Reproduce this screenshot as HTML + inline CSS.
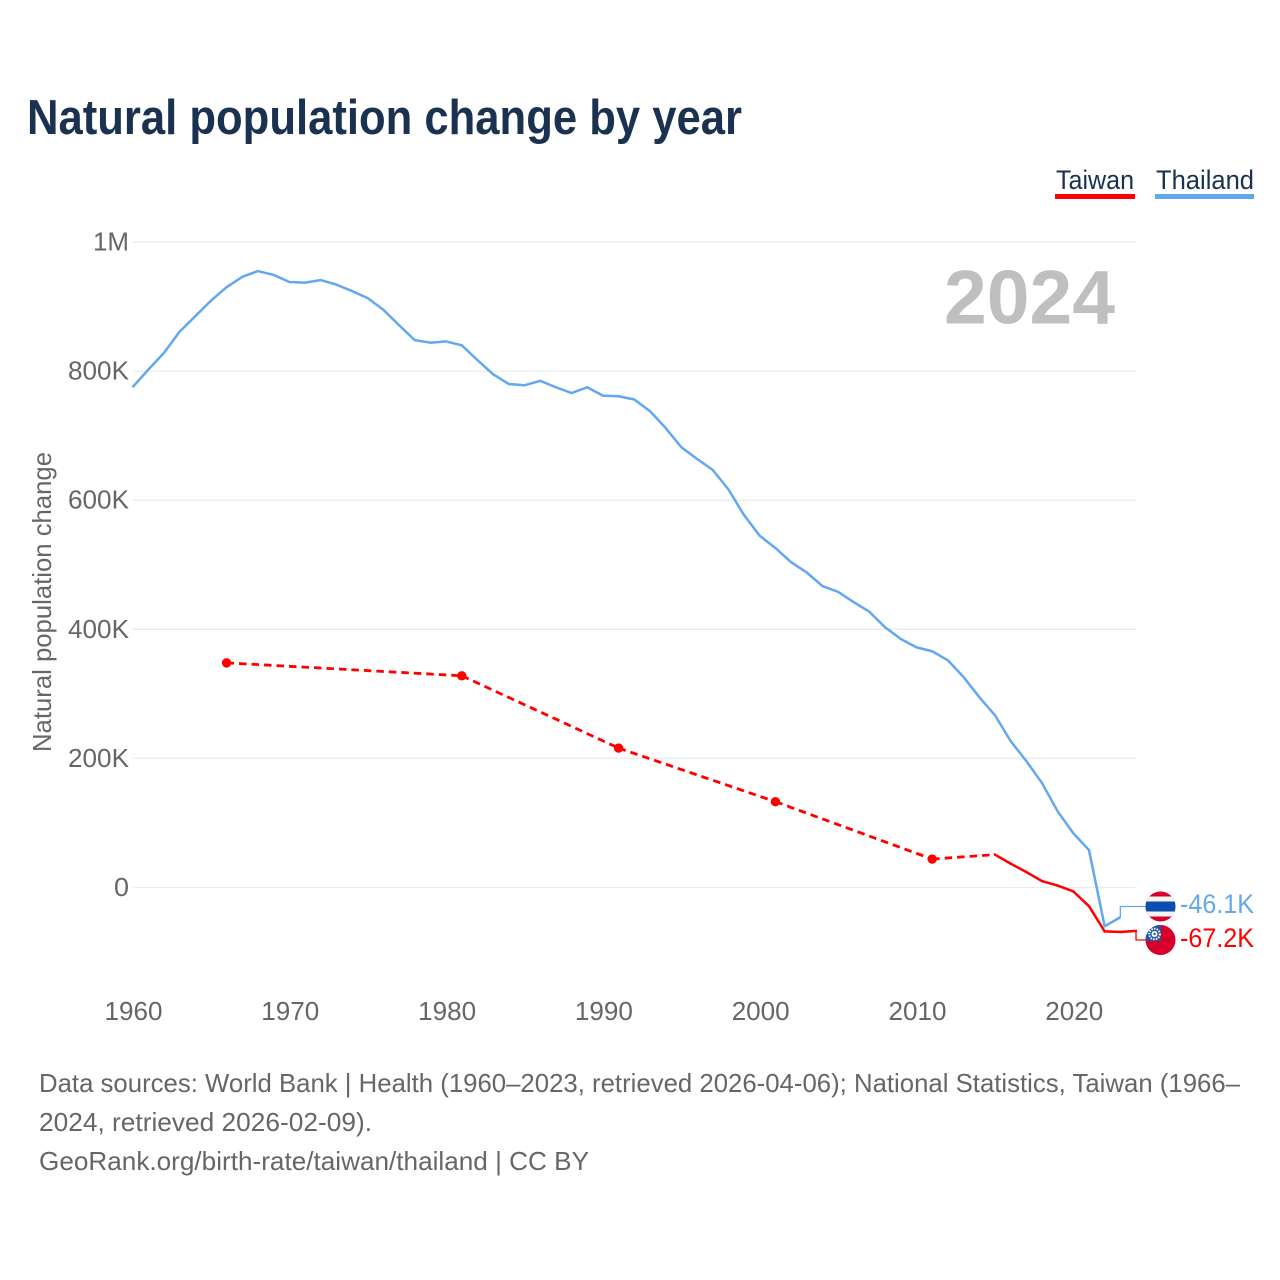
<!DOCTYPE html>
<html lang="en">
<head>
<meta charset="utf-8">
<title>Natural population change by year</title>
<style>
html,body{margin:0;padding:0;background:#fff;}
svg{display:block;}
text{font-family:"Liberation Sans",sans-serif;}
</style>
</head>
<body>
<svg id="chart" xmlns="http://www.w3.org/2000/svg" width="1280" height="1280" viewBox="0 0 1280 1280">
  <defs>
    <clipPath id="thai-clip"><circle cx="1160.5" cy="906.5" r="15"/></clipPath>
    <clipPath id="taiwan-clip"><circle cx="1160.5" cy="940" r="15"/></clipPath>
  </defs>
  <rect x="0" y="0" width="1280" height="1280" fill="#fff"/>
  <text x="27" y="134" font-size="49" font-weight="700" fill="#1a3150" textLength="715" lengthAdjust="spacingAndGlyphs">Natural population change by year</text>

  <g>
    <g>
      <text x="1056" y="189" font-size="27" fill="#1a3150" textLength="78" lengthAdjust="spacingAndGlyphs">Taiwan</text>
      <rect x="1055" y="194" width="80" height="5" fill="#ff0000"/>
    </g>
    <g>
      <text x="1156" y="189" font-size="27" fill="#1a3150" textLength="98" lengthAdjust="spacingAndGlyphs">Thailand</text>
      <rect x="1155" y="194" width="99" height="5" fill="#63a7ee"/>
    </g>
  </g>

  <g id="grid"></g>
  <g id="y-axis"></g>
  <g id="x-axis"></g>

  <text transform="translate(51,602) rotate(-90)" text-anchor="middle" font-size="26" fill="#666" textLength="300" lengthAdjust="spacingAndGlyphs">Natural population change</text>

  <text x="1115" y="323.5" text-anchor="end" font-size="76" font-weight="700" fill="#bfbfbf" textLength="171" lengthAdjust="spacingAndGlyphs">2024</text>

  <g id="series"></g>

  <g clip-path="url(#thai-clip)">
    <rect x="1145" y="891" width="31" height="31" fill="#d8002a"/>
    <rect x="1145" y="896.5" width="31" height="20" fill="#f4f4f4"/>
    <rect x="1145" y="901.5" width="31" height="10" fill="#0a4eb0"/>
  </g>
  <g clip-path="url(#taiwan-clip)">
    <rect x="1145" y="924" width="31" height="32" fill="#d8002a"/>
    <rect x="1145" y="924" width="16" height="17" fill="#1f55a8"/>
    <circle cx="1154.5" cy="934" r="5.3" fill="none" stroke="#fff" stroke-width="2" stroke-dasharray="1.5 1.2"/>
    <circle cx="1154.5" cy="934" r="3" fill="#fff"/>
    <circle cx="1154.5" cy="934" r="1.2" fill="#1f55a8"/>
  </g>
  <text x="1254" y="913" text-anchor="end" font-size="27" fill="#63a7ee" textLength="74" lengthAdjust="spacingAndGlyphs">-46.1K</text>
  <text x="1254" y="947" text-anchor="end" font-size="27" fill="#ff0000" textLength="74" lengthAdjust="spacingAndGlyphs">-67.2K</text>

  <g font-size="26" fill="#666">
    <text x="39" y="1092" textLength="1201" lengthAdjust="spacingAndGlyphs">Data sources: World Bank | Health (1960–2023, retrieved 2026-04-06); National Statistics, Taiwan (1966–</text>
    <text x="39" y="1131" textLength="333" lengthAdjust="spacingAndGlyphs">2024, retrieved 2026-02-09).</text>
    <text x="39" y="1170" textLength="550" lengthAdjust="spacingAndGlyphs">GeoRank.org/birth-rate/taiwan/thailand | CC BY</text>
  </g>
</svg>
<script>
const thailandYears = [1960,1961,1962,1963,1964,1965,1966,1967,1968,1969,1970,1971,1972,1973,1974,1975,1976,1977,1978,1979,1980,1981,1982,1983,1984,1985,1986,1987,1988,1989,1990,1991,1992,1993,1994,1995,1996,1997,1998,1999,2000,2001,2002,2003,2004,2005,2006,2007,2008,2009,2010,2011,2012,2013,2014,2015,2016,2017,2018,2019,2020,2021,2022,2023];
const thailandValues = [775,802,828,861,885,909,930,946,955,949,938,937,941,934,924,913,895,871,848,844,846,840,817,795,780,778,785,775,766,775,762,761,756,738,712,682,664,647,617,577,545,526,504,488,467,458,442,427,403,385,372,366,352,326,295,267,227,196,162,118,84,58,-60,-46.1];
const taiwanYears = [1966,1981,1991,2001,2011,2015,2016,2017,2018,2019,2020,2021,2022,2023,2024];
const taiwanValues = [348,328,216,133,44,51,37,24,10,3,-6,-29,-68,-69,-67.2];
const yTickValues = [0,200,400,600,800,1000];
const yTickLabels = ["0","200K","400K","600K","800K","1M"];
const xTickYears = [1960,1970,1980,1990,2000,2010,2020];

const NS = "http://www.w3.org/2000/svg";
const xScale = year => 132.5 + (year - 1960) * 15.68;
const yScale = value => 887.5 - value * 0.6455;

function svgEl(tag, attrs, parent) {
  const el = document.createElementNS(NS, tag);
  for (const key in attrs) el.setAttribute(key, attrs[key]);
  parent.appendChild(el);
  return el;
}

const grid = document.getElementById("grid");
const yAxis = document.getElementById("y-axis");
const xAxis = document.getElementById("x-axis");
const series = document.getElementById("series");

yTickValues.forEach((value, i) => {
  const y = yScale(value);
  const line = svgEl("line", {x1: 133, x2: 1136, y1: y, y2: y, stroke: "#ececec", "stroke-width": 1.3}, grid);
  
  
  const label = svgEl("text", {x: 129, y: y + 8.5, "text-anchor": "end", "font-size": 26, fill: "#666"}, yAxis);
  
  
  label.textContent = yTickLabels[i];
  const chars = yTickLabels[i].length;
  label.setAttribute("textLength", chars === 1 ? 15 : chars === 2 ? 36 : 61);
  label.setAttribute("lengthAdjust", "spacingAndGlyphs");
});

xTickYears.forEach(year => {
  const label = svgEl("text", {x: xScale(year) + 1, y: 1020, "text-anchor": "middle", "font-size": 26, fill: "#666", textLength: 58, lengthAdjust: "spacingAndGlyphs"}, xAxis);
  
  
  label.textContent = year;
});

const thailandPoints = thailandYears.map((year, i) => xScale(year) + "," + yScale(thailandValues[i])).join(" ");
const thailandLine = svgEl("polyline", {points: thailandPoints, fill: "none", stroke: "#63a7ee", "stroke-width": 2.5, "stroke-linejoin": "round"}, series);



const thailandEndX = xScale(thailandYears[thailandYears.length - 1]);
const thailandEndY = yScale(thailandValues[thailandValues.length - 1]);
const thailandLeader = svgEl("polyline", {points: thailandEndX + "," + thailandEndY + " " + thailandEndX + ",906.5 1146,906.5", fill: "none", stroke: "#63a7ee", "stroke-width": 1.3}, series);



for (let i = 0; i < taiwanYears.length - 1; i++) {
  const gap = taiwanYears[i + 1] - taiwanYears[i] > 1;
  const segment = svgEl("line", {
    x1: xScale(taiwanYears[i]), y1: yScale(taiwanValues[i]),
    x2: xScale(taiwanYears[i + 1]), y2: yScale(taiwanValues[i + 1]),
    stroke: "#ff0000", "stroke-width": 2.5, "stroke-linecap": "round"
  }, series);
  if (gap) {
    segment.setAttribute("stroke-dasharray", "7.5 5");
    segment.setAttribute("stroke-width", "2.8");
    segment.setAttribute("stroke-linecap", "butt");
  }
  
  
  const isolated = gap && (i === 0 || taiwanYears[i] - taiwanYears[i - 1] > 1);
  if (isolated) {
    const dot = svgEl("circle", {cx: xScale(taiwanYears[i]), cy: yScale(taiwanValues[i]), r: 4.7, fill: "#ff0000"}, series);
    
    
  }
}

const taiwanEndX = xScale(taiwanYears[taiwanYears.length - 1]);
const taiwanEndY = yScale(taiwanValues[taiwanValues.length - 1]);
const taiwanLeader = svgEl("polyline", {points: taiwanEndX + "," + taiwanEndY + " " + taiwanEndX + ",940 1146,940", fill: "none", stroke: "#ff0000", "stroke-width": 1.3}, series);


</script>
</body>
</html>
